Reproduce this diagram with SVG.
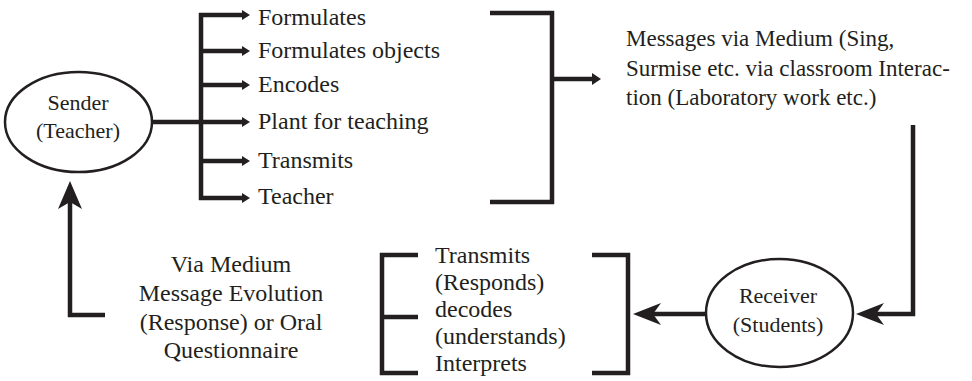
<svg xmlns="http://www.w3.org/2000/svg" width="972" height="381" viewBox="0 0 972 381">
<defs>
<style>
.t{font-family:"Liberation Serif","Times New Roman",serif;font-size:24px;fill:#231f20}
.s{font-size:22px}
.m{font-size:23px}
.ln{fill:none;stroke:#231f20;stroke-width:4.5;stroke-linecap:butt;stroke-linejoin:miter}
.el{fill:#fff;stroke:#231f20;stroke-width:2.5}
.ah{fill:#231f20;stroke:none}
</style>
</defs>
<rect width="972" height="381" fill="#fff"/>
<g id="connectors">
<path class="ln" d="M152,122 H201"/>
<path class="ln" d="M201,13 V200"/>
<path class="ln" d="M199,15 H243"/>
<path class="ln" d="M201,51 H243"/>
<path class="ln" d="M201,85 H243"/>
<path class="ln" d="M201,122 H243"/>
<path class="ln" d="M201,161 H243"/>
<path class="ln" d="M199,198 H243"/>
<path class="ah" d="M250,15 l-8,-5 v10 Z"/>
<path class="ah" d="M250,51 l-8,-5 v10 Z"/>
<path class="ah" d="M250,85 l-8,-5 v10 Z"/>
<path class="ah" d="M250,122 l-8,-5 v10 Z"/>
<path class="ah" d="M250,161 l-8,-5 v10 Z"/>
<path class="ah" d="M250,198 l-8,-5 v10 Z"/>
<path class="ln" d="M490,13 H552 V202 H490"/>
<path class="ln" d="M552,79 H593"/>
<path class="ah" d="M601,79 l-9,-6 v12 Z"/>
<path class="ln" d="M913,125 V314 H876"/>
<path class="ah" d="M856,314 l28,-11 l-8,11 l8,11 Z"/>
<path class="ln" d="M707,314 H652"/>
<path class="ah" d="M633,314 l28,-11 l-8,11 l8,11 Z"/>
<path class="ln" d="M592,255 H628 V373 H592"/>
<path class="ln" d="M418,255 H382 V373 H418 M382,317 H418"/>
<path class="ln" d="M105,315 H70 V200"/>
<path class="ah" d="M70,181 l-12,28 l12,-7 l12,7 Z"/>
</g>
<g id="sender">
<ellipse class="el" cx="78.5" cy="122" rx="73.5" ry="50"/>
<text class="t s" x="78" y="110" text-anchor="middle">Sender</text>
<text class="t s" x="78" y="138" text-anchor="middle">(Teacher)</text>
</g>
<g id="actions">
<text class="t" x="258" y="25">Formulates</text>
<text class="t" x="258" y="58">Formulates objects</text>
<text class="t" x="258" y="92">Encodes</text>
<text class="t" x="258" y="129">Plant for teaching</text>
<text class="t" x="258" y="168">Transmits</text>
<text class="t" x="258" y="204">Teacher</text>
</g>
<g id="messages">
<text class="t m" x="626" y="46">Messages via Medium (Sing,</text>
<text class="t m" x="626" y="76">Surmise etc. via classroom Interac-</text>
<text class="t m" x="626" y="105">tion (Laboratory work etc.)</text>
</g>
<g id="receiver">
<ellipse class="el" cx="779.5" cy="313" rx="73.5" ry="54"/>
<text class="t s" x="778" y="303" text-anchor="middle">Receiver</text>
<text class="t s" x="778" y="332" text-anchor="middle">(Students)</text>
</g>
<g id="responses">
<text class="t" x="435" y="263">Transmits</text>
<text class="t" x="435" y="290">(Responds)</text>
<text class="t" x="435" y="317">decodes</text>
<text class="t" x="435" y="344">(understands)</text>
<text class="t" x="435" y="371">Interprets</text>
</g>
<g id="feedback">
<text class="t" x="231" y="272" text-anchor="middle">Via Medium</text>
<text class="t" x="231" y="301" text-anchor="middle">Message Evolution</text>
<text class="t" x="231" y="330" text-anchor="middle">(Response) or Oral</text>
<text class="t" x="231" y="358" text-anchor="middle">Questionnaire</text>
</g>
</svg>
